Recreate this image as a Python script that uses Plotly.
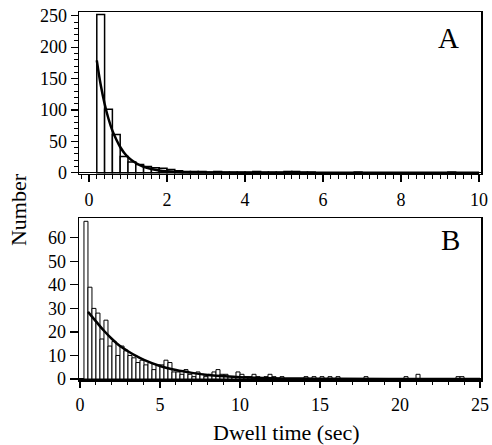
import numpy as np
import plotly.graph_objects as go

# ---------------- data ----------------
# Panel A: histogram, bin width 0.2 s, first bin starts at 0.2 s
bin_width_A = 0.2
bin_start_A = 0.2
counts_A = [252, 101, 61, 26, 17, 13, 10, 8, 7, 5,
            3, 2, 2, 2, 1, 2, 1, 1, 1, 1,
            2, 1, 1, 1, 2, 2, 1, 1, 0, 0,
            0, 0, 0, 1, 0, 0, 0, 0, 0, 0,
            0, 0, 0, 0, 0, 1, 0, 0, 0]
fit_A_t = [0.2, 0.3, 0.4, 0.5, 0.6, 0.7, 0.8, 0.9, 1.0, 1.2, 1.4, 1.6, 1.8, 2.0, 2.4, 3.0, 4.0, 6.0, 10.0]
fit_A_n = [179, 140, 110, 86, 67, 53, 41, 32, 25, 15.5, 9.5, 6, 3.7, 2.3, 0.9, 0.2, 0.02, 0, 0]

# Panel B: histogram, bin width 0.25 s, first bin starts at 0.25 s
bin_width_B = 0.25
bin_start_B = 0.25
counts_B = [67, 39, 30, 28, 17, 25, 14, 16, 10, 14,
            12, 10, 9, 7, 8, 6, 7, 4, 6, 6,
            8, 7, 3, 3, 2, 4, 2, 1, 3, 2,
            1, 2, 3, 4, 2, 2, 1, 1, 3, 2,
            1, 1, 2, 1, 0, 1, 2, 1, 0, 1,
            0, 0, 0, 0, 0, 1, 0, 1, 0, 1,
            0, 1, 0, 1, 0, 0, 0, 0, 0, 0,
            1, 0, 0, 0, 0, 0, 0, 0, 0, 0,
            1, 0, 0, 2, 0, 0, 0, 0, 0, 0,
            0, 0, 0, 1, 1, 0, 0, 0, 0]
fit_B_t = [0.5, 0.75, 1, 1.5, 2, 2.5, 3, 3.5, 4, 5, 6, 7, 8, 9, 10, 12, 14, 16, 20, 25]
fit_B_n = [28.5, 26.5, 24.5, 20.5, 17, 14, 11.8, 9.8, 8.1, 5.5, 3.8, 2.6, 1.7, 1.2, 0.8, 0.35, 0.17, 0.08, 0.02, 0]

ticks_A_y = [0, 50, 100, 150, 200, 250]
ticks_A_x = [0, 2, 4, 6, 8, 10]
ticks_B_y = [0, 10, 20, 30, 40, 50, 60]
ticks_B_x = [0, 5, 10, 15, 20, 25]

panel_labels = ["A", "B"]
x_title = "Dwell time (sec)"
y_title = "Number"

# ---------------- figure ----------------
FONT = "Liberation Serif"

centers_A = bin_start_A + bin_width_A * (np.arange(len(counts_A)) + 0.5)
centers_B = bin_start_B + bin_width_B * (np.arange(len(counts_B)) + 0.5)

fig = go.Figure()
fig.add_trace(go.Bar(x=centers_A, y=counts_A, width=bin_width_A,
                     marker=dict(color="white", line=dict(color="black", width=1.5)),
                     xaxis="x", yaxis="y", showlegend=False))
fig.add_trace(go.Scatter(x=fit_A_t, y=fit_A_n, mode="lines", line_shape="spline",
                         line=dict(color="black", width=2.5),
                         xaxis="x", yaxis="y", showlegend=False))
fig.add_trace(go.Bar(x=centers_B, y=counts_B, width=bin_width_B,
                     marker=dict(color="white", line=dict(color="black", width=1)),
                     xaxis="x2", yaxis="y2", showlegend=False))
fig.add_trace(go.Scatter(x=fit_B_t, y=fit_B_n, mode="lines", line_shape="spline",
                         line=dict(color="black", width=2.5),
                         xaxis="x2", yaxis="y2", showlegend=False))

common = dict(showline=True, mirror=True, linecolor="black", linewidth=1.5,
              ticks="outside", tickcolor="black", tickwidth=1.2, automargin=False,
              ticklabeloverflow="allow",
              showgrid=False, tickfont=dict(family=FONT, size=18, color="black"))

fig.update_layout(
    width=492, height=445,
    margin=dict(l=79, r=11, t=12, b=65, autoexpand=False),
    paper_bgcolor="white", plot_bgcolor="white",
    bargap=0,
    font=dict(family=FONT, color="black"),
    xaxis=dict(domain=[0, 1], anchor="y", range=[-0.256, 10.05],
               tickmode="array", tickvals=ticks_A_x, ticklen=7, zeroline=False,
               ticklabelstandoff=2,
               minor=dict(dtick=0.2, ticklen=4, ticks="outside", tickcolor="black", tickwidth=1, showgrid=False),
               **common),
    yaxis=dict(domain=[0.5598, 1], anchor="x", range=[-2.0, 256],
               tickmode="array", tickvals=ticks_A_y, ticklen=7,
               zeroline=True, zerolinecolor="black", zerolinewidth=1.5,
               minor=dict(dtick=10, ticklen=4, ticks="outside", tickcolor="black", tickwidth=1, showgrid=False),
               **common),
    xaxis2=dict(domain=[0, 1], anchor="y2", range=[-0.06, 25.06],
                tickmode="array", tickvals=ticks_B_x, ticklen=6, zeroline=False,
                ticklabelstandoff=2,
                minor=dict(dtick=1, ticklen=3, ticks="outside", tickcolor="black", tickwidth=1, showgrid=False),
                **common),
    yaxis2=dict(domain=[0, 0.4402], anchor="x2", range=[-0.42, 68.4],
                tickmode="array", tickvals=ticks_B_y, ticklen=8,
                zeroline=True, zerolinecolor="black", zerolinewidth=1.5,
                **common),
    annotations=[
        dict(text=panel_labels[0], xref="x domain", yref="y domain", x=0.920, y=0.84,
             xanchor="center", yanchor="middle", showarrow=False,
             font=dict(family=FONT, size=29, color="black")),
        dict(text=panel_labels[1], xref="x2 domain", yref="y2 domain", x=0.923, y=0.864,
             xanchor="center", yanchor="middle", showarrow=False,
             font=dict(family=FONT, size=29, color="black")),
        dict(text=x_title, xref="paper", yref="paper", x=0.5166, y=-0.143,
             xanchor="center", yanchor="middle", showarrow=False,
             font=dict(family=FONT, size=22, color="black")),
        dict(text=y_title, xref="paper", yref="paper", x=-0.149, y=0.462,
             xanchor="center", yanchor="middle", showarrow=False, textangle=-90,
             font=dict(family=FONT, size=22, color="black")),
    ],
)

# remove the default 8 px page margin so the figure fills the 492x445 window exactly
fig.write_html("out.html",
               config={"displayModeBar": False, "staticPlot": True},
               post_script="document.body.style.margin='0';document.body.style.overflow='hidden';")
